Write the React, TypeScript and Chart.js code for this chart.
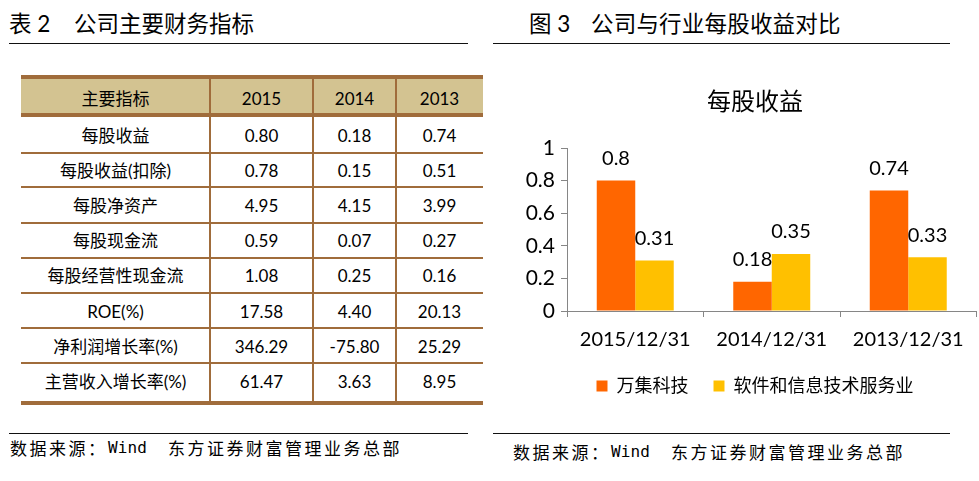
import React, { useEffect, useRef } from "react";
import { Chart, registerables } from "chart.js";

Chart.register(...registerables);

// ---------- data ----------
const leftTitleNo = "表 2";
const leftTitle = "公司主要财务指标";
const rightTitleNo = "图 3";
const rightTitle = "公司与行业每股收益对比";
const sourcePrefix = "数据来源：";
const sourceName = "Wind";
const sourceOrg = "东方证券财富管理业务总部";

const tableHeader = ["主要指标", "2015", "2014", "2013"];
const rowLabels = [
  "每股收益",
  "每股收益(扣除)",
  "每股净资产",
  "每股现金流",
  "每股经营性现金流",
  "ROE(%)",
  "净利润增长率(%)",
  "主营收入增长率(%)",
];
const values2015 = ["0.80", "0.78", "4.95", "0.59", "1.08", "17.58", "346.29", "61.47"];
const values2014 = ["0.18", "0.15", "4.15", "0.07", "0.25", "4.40", "-75.80", "3.63"];
const values2013 = ["0.74", "0.51", "3.99", "0.27", "0.16", "20.13", "25.29", "8.95"];

const chartTitle = "每股收益";
const categories = ["2015/12/31", "2014/12/31", "2013/12/31"];
const seriesNames = ["万集科技", "软件和信息技术服务业"];
const companyEPS = [0.8, 0.18, 0.74];
const industryEPS = [0.31, 0.35, 0.33];

// ---------- styling / layout ----------
const FONT = "Lato, 'Noto Sans CJK SC', sans-serif";
const CJK = "'Noto Sans CJK SC', sans-serif";
const MONO = "'DejaVu Sans Mono', monospace";
const BROWN = "#A06C3B";
const HEADER_BG = "#D3C391";
const ORANGE = "#FF6600";
const YELLOW = "#FFC000";
const AXIS = "#868686";

const COL_EDGES = [21, 210, 313, 396, 483];
const INNER_ROW_LINES = [152.7, 187.3, 223.3, 258.3, 293.3, 328.3, 363.3];
const ROW_TEXT_CENTERS = [99, 136, 171, 206, 241, 276, 311.5, 346.5, 381.5];

type TxtProps = {
  x: number;
  cy: number;
  size: number;
  family?: string;
  width?: number;
  align?: "left" | "center";
  spacing?: number;
  children: React.ReactNode;
};

function Txt({ x, cy, size, family = FONT, width, align = "left", spacing = 0, children }: TxtProps) {
  const h = Math.round(size * 1.3);
  return (
    <div
      style={{
        position: "absolute",
        left: x,
        top: cy - h / 2,
        width: width,
        height: h,
        lineHeight: `${h}px`,
        fontSize: size,
        fontFamily: family,
        textAlign: align,
        letterSpacing: spacing,
        whiteSpace: "nowrap",
        color: "#000",
      }}
    >
      {children}
    </div>
  );
}

function HLine({ x1, x2, y, h, color }: { x1: number; x2: number; y: number; h: number; color: string }) {
  return <div style={{ position: "absolute", left: x1, top: y, width: x2 - x1, height: h, background: color }} />;
}

const valueLabels = {
  id: "valueLabels",
  afterDatasetsDraw(chart: any) {
    const { ctx } = chart;
    ctx.save();
    ctx.font = `20px ${FONT}`;
    ctx.fillStyle = "#000";
    ctx.textAlign = "center";
    ctx.textBaseline = "middle";
    chart.data.datasets.forEach((ds: any, i: number) => {
      const meta = chart.getDatasetMeta(i);
      meta.data.forEach((el: any, j: number) => {
        ctx.fillText(String(ds.data[j]), el.x, el.y - 22);
      });
    });
    ctx.restore();
  },
};

function EPSChart() {
  const ref = useRef<HTMLCanvasElement>(null);
  useEffect(() => {
    const canvas = ref.current;
    if (!canvas) return;
    const chart = new Chart(canvas, {
      type: "bar",
      data: {
        labels: categories,
        datasets: [
          { label: seriesNames[0], data: companyEPS, backgroundColor: ORANGE, borderWidth: 0, yAxisID: "y" },
          { label: seriesNames[1], data: industryEPS, backgroundColor: YELLOW, borderWidth: 0, yAxisID: "y" },
        ],
      },
      options: {
        responsive: false,
        animation: false,
        devicePixelRatio: 1,
        layout: { padding: { left: 20, right: 0, top: 0, bottom: 15 } },
        datasets: { bar: { barPercentage: 1, categoryPercentage: 0.564 } },
        plugins: {
          title: {
            display: true,
            text: chartTitle,
            color: "#000",
            font: { family: FONT, size: 24, weight: "normal" },
            padding: { top: 18, bottom: 31.2 },
          },
          legend: {
            position: "bottom",
            labels: {
              color: "#000",
              font: { family: FONT, size: 18 },
              boxWidth: 11,
              boxHeight: 11,
              padding: 25,
            },
          },
          tooltip: { enabled: false },
        },
        scales: {
          x: {
            grid: { display: true, drawOnChartArea: false, drawTicks: true, tickLength: 6, color: AXIS, offset: true },
            border: { display: true, color: AXIS, width: 1 },
            ticks: { color: "#000", font: { family: FONT, size: 20 }, padding: 10.5, maxRotation: 0, autoSkip: false },
            afterFit: (s: any) => {
              s.height = 41;
            },
          },
          y: {
            position: "left",
            min: 0,
            max: 1,
            ticks: {
              stepSize: 0.2,
              color: "#000",
              font: { family: FONT, size: 21 },
              padding: 6,
              callback: (v: any) => String(Number(Number(v).toFixed(2))),
            },
            grid: { drawOnChartArea: false, tickLength: 6, color: AXIS },
            border: { display: true, color: AXIS, width: 1 },
            afterFit: (s: any) => {
              s.width = 57;
            },
          },
          spacer: {
            type: "linear",
            position: "right",
            display: true,
            grid: { display: false, drawTicks: false },
            border: { display: false },
            ticks: { display: false },
            afterFit: (s: any) => {
              s.width = 23.5;
            },
          },
        },
      } as any,
      plugins: [valueLabels],
    });
    return () => chart.destroy();
  }, []);
  return (
    <canvas
      ref={ref}
      width={510}
      height={350}
      style={{ position: "absolute", left: 490, top: 70, width: 510, height: 350 }}
    />
  );
}

function Source({ x, cy }: { x: number; cy: number }) {
  return (
    <>
      <Txt x={x} cy={cy} size={17} family={CJK} spacing={2.5}>
        {sourcePrefix}
      </Txt>
      <Txt x={x + 98} cy={cy} size={16} family={MONO} spacing={0.1}>
        {sourceName}
      </Txt>
      <Txt x={x + 158} cy={cy} size={17} family={CJK} spacing={2.5}>
        {sourceOrg}
      </Txt>
    </>
  );
}

export default function App() {
  const columns = [rowLabels, values2015, values2014, values2013];
  return (
    <div
      style={{
        position: "absolute",
        left: 0,
        top: 0,
        width: 979,
        height: 481,
        background: "#fff",
        overflow: "hidden",
        fontFamily: FONT,
      }}
    >
      {/* Titles */}
      <Txt x={9} cy={23} size={22.5}>
        {leftTitleNo}
      </Txt>
      <Txt x={74} cy={23} size={22.5}>
        {leftTitle}
      </Txt>
      <HLine x1={9} x2={468} y={43} h={1.2} color="#111" />

      <Txt x={529} cy={23.5} size={22.5}>
        {rightTitleNo}
      </Txt>
      <Txt x={591} cy={23.5} size={22.5} spacing={0.2}>
        {rightTitle}
      </Txt>
      <HLine x1={493} x2={950} y={43} h={1.2} color="#111" />

      {/* Table */}
      <div style={{ position: "absolute", left: COL_EDGES[0], top: 79, width: COL_EDGES[4] - COL_EDGES[0], height: 34, background: HEADER_BG }} />
      <HLine x1={COL_EDGES[0]} x2={COL_EDGES[4]} y={75} h={4} color={BROWN} />
      <HLine x1={COL_EDGES[0]} x2={COL_EDGES[4]} y={113} h={4} color={BROWN} />
      {INNER_ROW_LINES.map((y, i) => (
        <HLine key={"r" + i} x1={COL_EDGES[0]} x2={COL_EDGES[4]} y={y - 1} h={2} color={BROWN} />
      ))}
      <HLine x1={COL_EDGES[0]} x2={COL_EDGES[4]} y={401} h={4} color={BROWN} />
      {COL_EDGES.slice(1, 4).map((x, i) => (
        <div key={"c" + i} style={{ position: "absolute", left: x - 1, top: 79, width: 2, height: 322, background: BROWN }} />
      ))}
      {tableHeader.map((t, c) => (
        <Txt key={"h" + c} x={COL_EDGES[c]} width={COL_EDGES[c + 1] - COL_EDGES[c]} align="center" cy={ROW_TEXT_CENTERS[0]} size={17}>
          {t}
        </Txt>
      ))}
      {rowLabels.map((_, r) =>
        columns.map((col, c) => (
          <Txt
            key={`cell${r}-${c}`}
            x={COL_EDGES[c]}
            width={COL_EDGES[c + 1] - COL_EDGES[c]}
            align="center"
            cy={ROW_TEXT_CENTERS[r + 1]}
            size={17}
          >
            {col[r]}
          </Txt>
        ))
      )}

      {/* Chart */}
      <EPSChart />

      {/* Sources */}
      <HLine x1={9} x2={468} y={433} h={1.2} color="#111" />
      <Source x={10} cy={447.5} />
      <HLine x1={493} x2={950} y={433} h={1.2} color="#111" />
      <Source x={513} cy={451.5} />
    </div>
  );
}
